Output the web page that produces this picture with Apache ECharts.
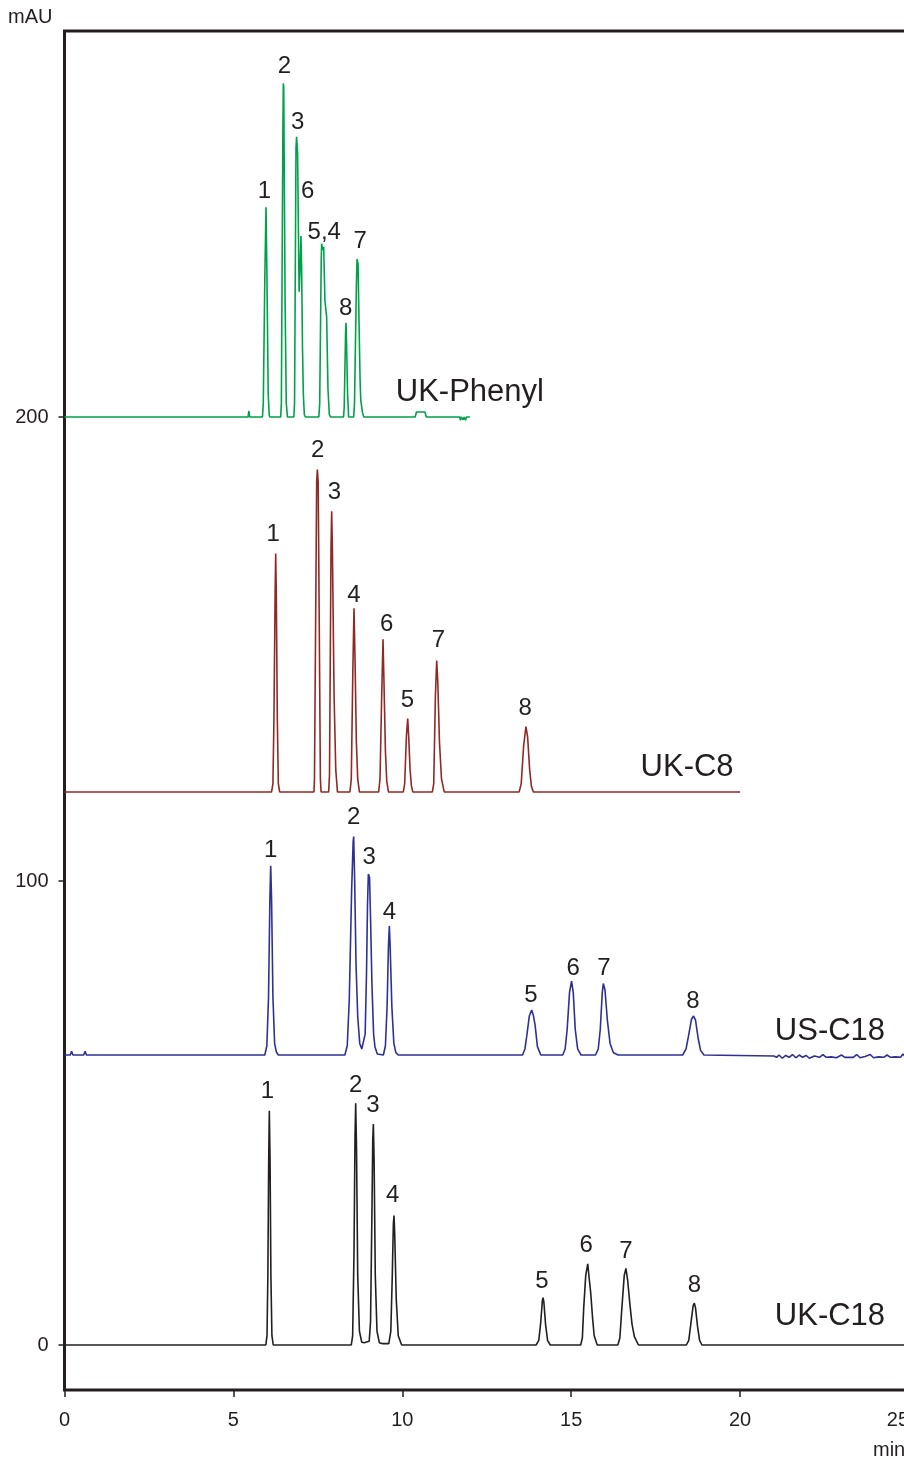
<!DOCTYPE html>
<html>
<head>
<meta charset="utf-8">
<script src="https://cdn.jsdelivr.net/npm/echarts@6/dist/echarts.min.js"></script>
<style>
html,body{margin:0;padding:0;background:#fff;}
#chart{width:904px;height:1461px;}
</style>
</head>
<body>
<div id="chart"></div>
<script>
// ---- data (time in min, absorbance in mAU; traces are offset as in the original figure) ----
var xTicks = [0, 5, 10, 15, 20, 25];
var yTicks = [0, 100, 200];

var ukPhenyl = [
  [0,200],[5.43,200],[5.46,201.3],[5.48,200],
  [5.86,200],[5.885,203],[5.93,230],[5.965,245.2],[5.99,232],[6.03,205],[6.06,200.5],[6.08,200],
  [6.40,200],[6.42,203],[6.465,262],[6.478,271.9],[6.49,271],[6.53,225],[6.565,203],[6.60,200],
  [6.79,200],[6.81,203],[6.853,258],[6.87,260.4],[6.90,257],[6.925,240],[6.945,227],[6.975,232],[7.0,239],[7.02,232],[7.045,215],[7.07,205],[7.10,200.5],[7.13,200],
  [7.53,200],[7.555,203],[7.60,234],[7.613,237.4],[7.64,236],[7.672,236.7],[7.71,225],[7.76,221.6],[7.80,206],[7.84,200.5],[7.88,200],
  [8.26,200],[8.28,202],[8.32,218],[8.333,220.3],[8.35,216],[8.38,205],[8.41,200],
  [8.56,200],[8.585,203],[8.64,228],[8.659,234],[8.69,233],[8.72,220],[8.75,208],[8.77,203.7],[8.82,201],[8.86,200],
  [10.38,200],[10.42,201.1],[10.67,201.1],[10.71,200],
  [11.70,200],[11.72,199.3],[11.74,200],[11.80,199.4],[11.83,200],[11.87,199.3],[11.90,200],[12.0,200]
];

var ukC8 = [
  [0,119.2],
  [6.13,119.2],[6.17,121],[6.20,135],[6.235,162],[6.252,170.6],[6.27,162],[6.30,135],[6.33,121],[6.37,119.2],
  [7.385,119.2],[7.40,122],[7.465,186],[7.485,188.7],[7.51,186],[7.575,122],[7.595,119.2],
  [7.82,119.2],[7.845,123],[7.89,172],[7.909,179.7],[7.93,172],[7.98,140],[8.03,124],[8.08,119.2],
  [8.45,119.2],[8.49,122],[8.535,145],[8.57,158.8],[8.60,148],[8.64,130],[8.68,122],[8.73,119.2],
  [9.30,119.2],[9.34,122],[9.39,140],[9.429,152.1],[9.46,142],[9.50,128],[9.54,121.5],[9.59,119.2],
  [10.03,119.2],[10.07,121],[10.12,131],[10.16,135.0],[10.19,131],[10.23,124],[10.27,120.5],[10.31,119.2],
  [10.89,119.2],[10.93,121],[10.98,140],[11.018,147.5],[11.05,143],[11.10,130],[11.16,122],[11.24,119.2],
  [13.46,119.2],[13.52,121],[13.59,129],[13.66,133.3],[13.71,131],[13.77,124],[13.82,120.5],[13.88,119.2],
  [20.0,119.2]
];

var usC18 = [
  [0,62.5],[0.17,62.5],[0.21,63.3],[0.25,62.5],[0.57,62.5],[0.61,63.3],[0.65,62.5],
  [5.93,62.5],[5.99,64.5],[6.04,75],[6.08,96],[6.104,103.3],[6.13,96],[6.17,75],[6.22,65],[6.27,63.2],[6.33,62.5],
  [8.30,62.5],[8.37,64.5],[8.43,74.4],[8.50,98],[8.545,108.5],[8.561,109.6],[8.59,100],[8.63,82],[8.68,70.8],[8.74,65],[8.80,63.8],[8.84,63.7],
  [8.90,67],[8.94,80],[8.97,95],[8.995,101.5],[9.03,100.8],[9.06,92],[9.10,78],[9.15,67],[9.19,64.3],[9.26,62.7],
  [9.44,62.5],[9.50,64.5],[9.55,73],[9.59,86],[9.616,90.3],[9.64,86],[9.69,73],[9.75,65],[9.81,63],[9.88,62.5],
  [13.56,62.5],[13.63,63.8],[13.68,66.4],[13.76,70.9],[13.83,72.2],[13.88,71],[13.93,69],[14.0,64.3],[14.10,62.5],
  [14.75,62.5],[14.82,63.8],[14.88,68],[14.95,76],[15.01,78.4],[15.06,76],[15.12,68],[15.19,63.8],[15.29,62.5],
  [15.72,62.5],[15.80,63.8],[15.86,68],[15.92,76],[15.95,77.9],[16.0,76.5],[16.07,70],[16.15,65],[16.25,63],[16.39,62.5],
  [18.30,62.5],[18.40,63.8],[18.47,66.5],[18.56,70.2],[18.62,70.9],[18.68,70],[18.76,66],[18.83,63.5],[18.93,62.5],
  [21.0,62.3],[21.08,62.0],[21.15,62.5],[21.25,61.8],[21.35,62.4],[21.45,62.0],[21.55,62.6],[21.65,61.9],[21.75,62.5],
  [21.85,62.0],[21.95,62.4],[22.05,61.8],[22.2,62.3],[22.35,62.0],[22.45,62.6],[22.55,62.0],[22.7,62.1],[22.85,61.9],
  [23.0,62.5],[23.1,62.0],[23.2,62.0],[23.35,62.0],[23.45,62.6],[23.55,61.9],[23.7,62.2],[23.85,62.6],[23.95,61.9],
  [24.1,62.1],[24.25,62.0],[24.35,62.5],[24.45,62.0],[24.6,62.1],[24.75,62.0],[24.82,62.7],[24.9,62.0],[26,62.0]
];

var ukC18 = [
  [0,0],
  [5.96,0],[5.995,2],[6.02,15],[6.045,40],[6.063,50.5],[6.085,40],[6.11,15],[6.14,2],[6.18,0],
  [8.49,0],[8.53,2],[8.57,20],[8.60,45],[8.62,52.1],[8.645,42],[8.68,15],[8.73,3],[8.80,0.6],[8.87,0.5],
  [9.02,0.8],[9.06,5],[9.10,28],[9.125,44],[9.143,47.6],[9.165,40],[9.20,15],[9.25,3],[9.32,0.5],[9.40,0.3],
  [9.60,0.3],[9.66,3],[9.70,14],[9.735,26],[9.754,27.9],[9.775,24],[9.82,10],[9.88,2],[9.98,0],
  [13.96,0],[14.04,1],[14.10,5],[14.145,9.5],[14.165,10.2],[14.19,9.3],[14.24,4.5],[14.30,1],[14.38,0],
  [15.28,0],[15.33,1.5],[15.37,8],[15.43,15],[15.49,17.5],[15.53,14.5],[15.58,11],[15.63,6],[15.68,2],[15.77,0],
  [16.38,0],[16.44,1.5],[16.50,8],[16.57,15],[16.62,16.5],[16.67,14],[16.74,8.6],[16.80,4.5],[16.87,1.8],[16.99,0],
  [18.41,0],[18.48,1],[18.54,4.5],[18.61,8.5],[18.645,9.0],[18.68,8],[18.74,4],[18.80,1],[18.87,0],
  [26,0]
];

// peak number annotations [time, mAU, text]
var peakLabels = [
  [5.915,248.6,'1'],[6.507,275.5,'2'],[6.90,263.6,'3'],[7.20,248.6,'6'],[7.69,239.9,'5,4'],[8.75,237.8,'7'],[8.32,223.4,'8'],
  [6.18,174.8,'1'],[7.495,192.9,'2'],[7.99,183.7,'3'],[8.57,161.6,'4'],[9.54,155.4,'6'],[10.15,139.0,'5'],[11.07,151.8,'7'],[13.64,137.2,'8'],
  [6.10,106.7,'1'],[8.56,113.7,'2'],[9.02,105.0,'3'],[9.615,93.3,'4'],[13.81,75.4,'5'],[15.06,81.2,'6'],[15.97,81.2,'7'],[18.60,74.1,'8'],
  [6.005,54.6,'1'],[8.62,56.0,'2'],[9.13,51.7,'3'],[9.715,32.3,'4'],[14.13,13.8,'5'],[15.44,21.4,'6'],[16.62,20.1,'7'],[18.645,12.9,'8']
];

// trace names [time, mAU, text]
var traceLabels = [
  [12.0,205.4,'UK-Phenyl'],
  [18.43,124.4,'UK-C8'],
  [22.66,67.5,'US-C18'],
  [22.66,6.25,'UK-C18']
];

var FONT = '"Liberation Sans", Arial, Helvetica, sans-serif';
var INK = '#231f20';

var chart = echarts.init(document.getElementById('chart'), null, {renderer:'canvas'});

function lineSeries(name, data, color){
  return {
    name: name, type: 'line', data: data, showSymbol: false, symbol: 'none',
    lineStyle: {color: color, width: 1.6}, z: 3, silent: true
  };
}

function textSeries(data, size){
  return {
    type: 'scatter', data: data, symbolSize: 0, silent: true, z: 4,
    itemStyle: {opacity: 1},
    label: {show: true, position: 'inside', formatter: function(p){return p.value[2];},
      color: INK, opacity: 1, fontSize: size, fontFamily: FONT}
  };
}

chart.setOption({
  animation: false,
  backgroundColor: '#fff',
  grid: {
    left: 64.5, top: 31, width: 878.3, height: 1359,
    outerBoundsMode: 'none', containLabel: false,
    show: true, borderColor: INK, borderWidth: 3, backgroundColor: 'transparent'
  },
  xAxis: {
    type: 'value', min: 0, max: 26,
    axisLine: {show: false, onZero: false},
    splitLine: {show: false},
    axisTick: {show: true, customValues: xTicks, length: 7, lineStyle: {color: INK, width: 1.5}},
    axisLabel: {customValues: xTicks, color: INK, fontSize: 20, fontFamily: FONT, margin: 20, alignMaxLabel: 'right'}
  },
  yAxis: {
    type: 'value', min: -9.7, max: 283.2,
    axisLine: {show: false, onZero: false},
    splitLine: {show: false},
    axisTick: {show: true, customValues: yTicks, length: 6, lineStyle: {color: INK, width: 1.5}},
    axisLabel: {customValues: yTicks, color: INK, fontSize: 20, fontFamily: FONT, margin: 16}
  },
  graphic: [
    {type: 'text', left: 8, top: 7, style: {text: 'mAU', fontSize: 20, fontFamily: FONT, fill: INK}},
    {type: 'text', left: 873, top: 1440, style: {text: 'min', fontSize: 20, fontFamily: FONT, fill: INK}}
  ],
  series: [
    lineSeries('UK-Phenyl', ukPhenyl, '#00a14b'),
    lineSeries('UK-C8', ukC8, '#8e2a25'),
    lineSeries('US-C18', usC18, '#2e3192'),
    lineSeries('UK-C18', ukC18, INK),
    textSeries(peakLabels, 24),
    textSeries(traceLabels, 31)
  ]
});
</script>
</body>
</html>
